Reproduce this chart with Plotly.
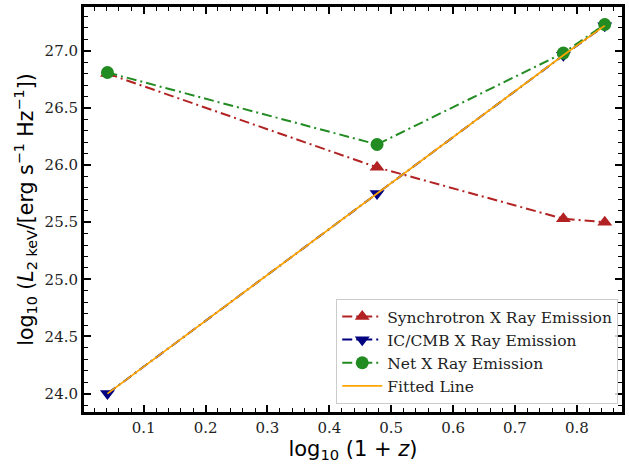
import plotly.graph_objects as go

log1pz = [0.0414, 0.4771, 0.7782, 0.8451]
sync = [26.80, 25.98, 25.53, 25.50]
iccmb = [24.00, 25.75, 26.96, 27.22]
net = [26.81, 26.18, 26.98, 27.23]
fitted = [24.00, 25.75, 26.96, 27.22]

names = ["Synchrotron X Ray Emission", "IC/CMB X Ray Emission", "Net X Ray Emission", "Fitted Line"]
dd = "10px,4px,2px,4px"

fig = go.Figure()
fig.add_trace(go.Scatter(x=log1pz, y=sync, name=names[0], mode="lines+markers",
                         line=dict(color="#b22222", width=2, dash=dd),
                         marker=dict(symbol="triangle-up", size=13, color="#b22222")))
fig.add_trace(go.Scatter(x=log1pz, y=iccmb, name=names[1], mode="lines+markers",
                         line=dict(color="#000080", width=2, dash=dd),
                         marker=dict(symbol="triangle-down", size=13, color="#000080")))
fig.add_trace(go.Scatter(x=log1pz, y=net, name=names[2], mode="lines+markers",
                         line=dict(color="#228b22", width=2, dash=dd),
                         marker=dict(symbol="circle", size=13, color="#228b22")))
fig.add_trace(go.Scatter(x=log1pz, y=fitted, name=names[3], mode="lines",
                         line=dict(color="#ffa500", width=1.8)))

axcommon = dict(showline=True, linecolor="black", linewidth=3, mirror="allticks",
                ticks="inside", ticklen=7, tickwidth=1.5, tickcolor="black",
                showgrid=False, zeroline=False,
                tickfont=dict(family="DejaVu Serif", size=15, color="#222"))

fig.update_xaxes(range=[0.0035, 0.873], tick0=0.1, dtick=0.1, tickformat=".1f",
                 minor=dict(dtick=0.02, ticks="inside", ticklen=4, tickwidth=1.2, tickcolor="black"),
                 title=dict(text="log<sub>10</sub> (1 + <i>z</i>)", standoff=4,
                            font=dict(family="DejaVu Sans", size=21, color="black")),
                 **axcommon)
fig.update_yaxes(range=[23.839, 27.383], tick0=24, dtick=0.5, tickformat=".1f",
                 minor=dict(dtick=0.1, ticks="inside", ticklen=4, tickwidth=1.2, tickcolor="black"),
                 title=dict(text="log<sub>10</sub> (<i>L</i><sub>2 keV</sub>/[erg s<sup>−1</sup> Hz<sup>−1</sup>])",
                            standoff=6, font=dict(family="DejaVu Sans", size=20.5, color="black")),
                 **axcommon)

fig.update_layout(
    width=629, height=471,
    margin=dict(l=84, r=4, t=5, b=59),
    plot_bgcolor="white", paper_bgcolor="white",
    legend=dict(x=0.993, y=0.02, xanchor="right", yanchor="bottom",
                bgcolor="rgba(255,255,255,0.8)", bordercolor="#cccccc", borderwidth=1,
                font=dict(family="DejaVu Serif", size=15.5, color="#222"),
                tracegroupgap=0, itemwidth=40),
)

fig.write_html("out.html")
